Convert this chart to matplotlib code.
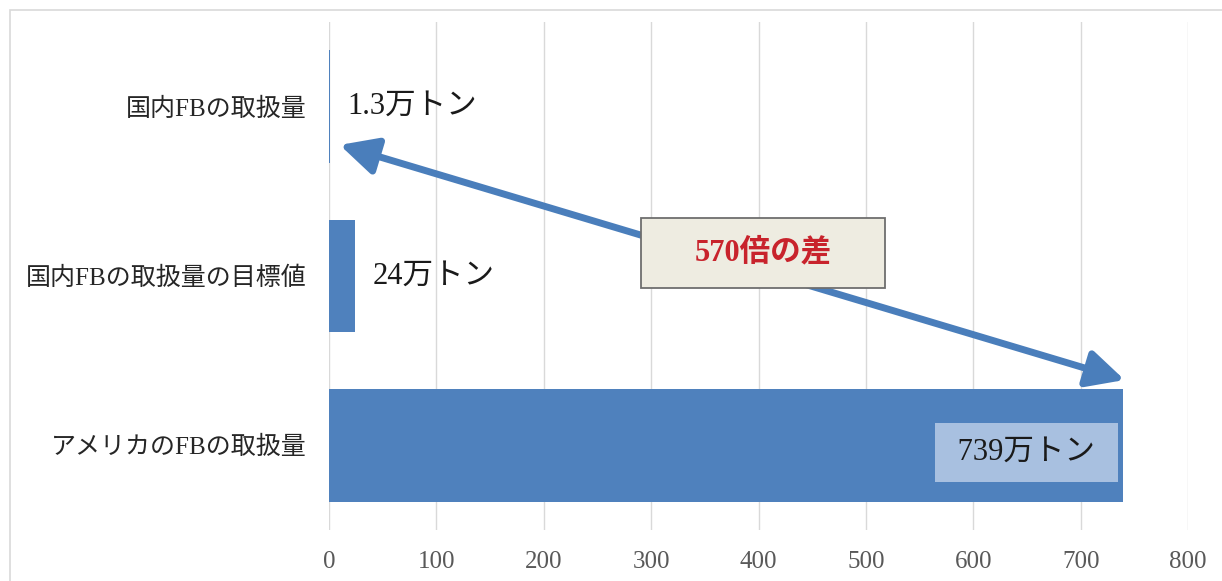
import matplotlib
matplotlib.use("Agg")
import matplotlib.pyplot as plt
from matplotlib.patches import Rectangle

categories = ["国内FBの取扱量", "国内FBの取扱量の目標値", "アメリカのFBの取扱量"]
values = [1.3, 24, 739]
value_labels = ["1.3万トン", "24万トン", "739万トン"]
xticks = [0, 100, 200, 300, 400, 500, 600, 700, 800]
callout_text = "570倍の差"

FONT = ["Liberation Serif", "Noto Sans CJK JP"]
BAR = "#4f81bd"

fig = plt.figure(figsize=(12.22, 5.81), dpi=100)
# outer chart border
fig.patches.append(Rectangle((10 / 1222, -0.1), 1.2, 1 - 10 / 581 + 0.1,
                             transform=fig.transFigure, fill=False,
                             edgecolor="#d9d9d9", lw=1.2))

ax = fig.add_axes([329 / 1222, 1 - 530 / 581, (1188 - 329) / 1222, (530 - 22) / 581])
ypos = list(range(len(categories)))
ax.barh(ypos, values, height=0.665, color=BAR, zorder=3)
ax.set_ylim(2.5, -0.5)
ax.set_xlim(0, 800)
ax.set_xticks(xticks)
ax.set_xticklabels([str(t) for t in xticks], family=FONT, fontsize=18, color="#595959")
ax.set_yticks(ypos)
ax.set_yticklabels(categories, family=FONT, fontsize=18, color="#262626")
ax.tick_params(axis="x", length=0, pad=15)
ax.tick_params(axis="y", length=0, pad=16)
ax.grid(axis="x", color="#d9d9d9", lw=1, zorder=0)
for s in ax.spines.values():
    s.set_visible(False)

# value labels
for i in range(2):
    ax.annotate(value_labels[i], xy=(values[i], i), xytext=(12.5, 0),
                textcoords="offset points", ha="left", va="center",
                family=FONT, fontsize=22, color="#1a1a1a", zorder=5)
ax.annotate(" " + value_labels[2] + " ", xy=(values[2], 2), xytext=(-69, -5),
            textcoords="offset points", ha="center", va="center",
            family=FONT, fontsize=22, color="#1a1a1a", zorder=5,
            bbox=dict(boxstyle="square,pad=0.5", fc="#a8c0e0", ec="none"))

# double-headed arrow
ax.annotate("", xy=(values[2] + 2, 1.614), xytext=(10, 0.226),
            arrowprops=dict(arrowstyle="<|-|>,head_length=0.9,head_width=0.45",
                            mutation_scale=25, color="#4a7ebb", lw=5,
                            shrinkA=0, shrinkB=0), zorder=4)

# callout box
cx, cy = 404, 0.864
ax.add_patch(Rectangle((cx - 113.5, cy - 0.207), 227, 0.414, fc="#eeece1",
                       ec="#6e6e6e", lw=1.3, zorder=6))
ax.text(cx, cy, callout_text, ha="center", va="center", family=FONT,
        fontsize=22, fontweight="bold", color="#c8232c", zorder=7)

fig.savefig("out.png", dpi=100)
